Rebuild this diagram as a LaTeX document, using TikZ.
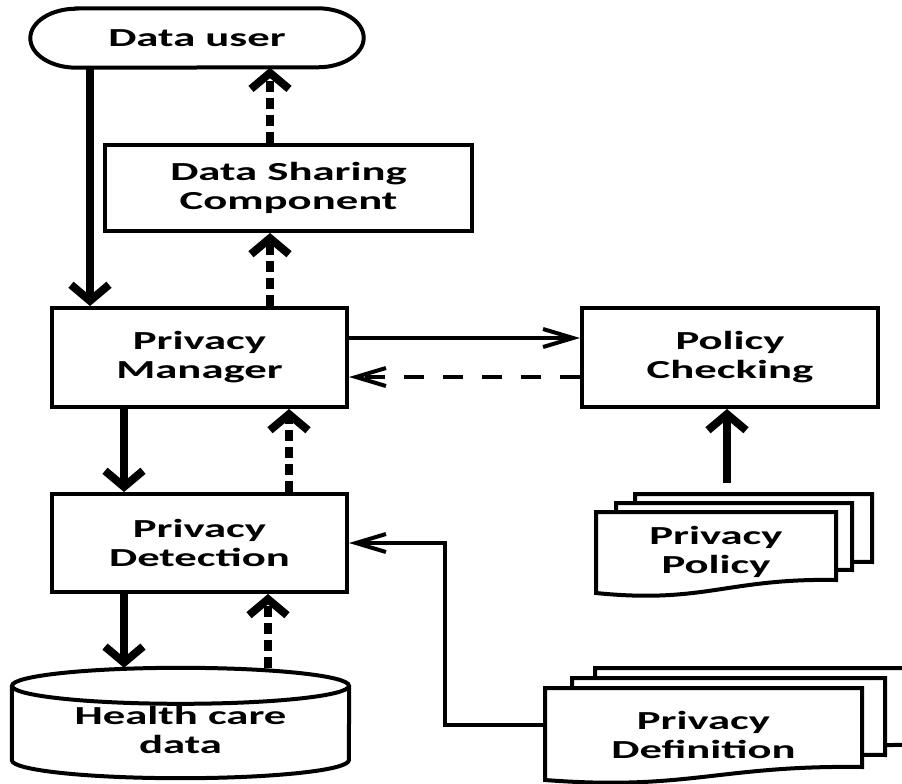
\documentclass[tikz,border=0pt]{standalone}
\usepackage{fontspec}
\newfontfamily\boxfont[FakeStretch=1.72]{Carlito}
\usetikzlibrary{arrows.meta}

\begin{document}
\begin{tikzpicture}[x=1pt,y=-1pt,
  txt/.style={align=center, font=\boxfont\bfseries\fontsize{26}{29}\selectfont},
  box/.style={txt, draw, line width=4pt},
  sheet/.style={draw, fill=white, line width=4pt},
  vflow/.style={line width=8pt, -{Straight Barb[length=16pt,width=38pt]}},
  vback/.style={vflow, dash pattern=on 11pt off 6pt},
  hflow/.style={line width=4pt, -{Straight Barb[length=30pt,width=18pt]}},
  hback/.style={hflow, dash pattern=on 20pt off 19pt}]
\useasboundingbox (0,0) rectangle (902,784);
\clip (0,0) rectangle (902,784);

% left column
\node[txt, minimum width=333pt, minimum height=59pt] (user) at (197,38) {Data user};
\draw[line width=4pt] ([xshift=46pt]user.north west) -- ([xshift=-46pt]user.north east)
  arc[start angle=90, end angle=-90, x radius=46pt, y radius=29.5pt]
  -- ([xshift=46pt]user.south west)
  arc[start angle=270, end angle=90, x radius=46pt, y radius=29.5pt] -- cycle;
\node[box, minimum width=367pt, minimum height=86pt] (share) at (288.5,188) {Data Sharing\\Component};
\node[box, minimum width=295pt, minimum height=99pt] (mgr) at (199.5,357.5) {Privacy\\Manager};
\node[box, minimum width=295pt, minimum height=98pt] (det) at (199.5,543) {Privacy\\Detection};

% storage
\node[minimum width=337pt, minimum height=110pt] (store) at (180.5,723) {};
\draw[line width=4pt] ([yshift=-18pt]store.north west) -- ([yshift=18pt]store.south west)
  arc[start angle=180, end angle=360, x radius=168.5pt, y radius=18pt]
  -- ([yshift=-18pt]store.north east);
\draw[line width=4pt] ([yshift=-18pt]store.north) ellipse[x radius=168.5pt, y radius=18pt];
\node[txt] (storetxt) at ([yshift=-7pt]store.center) {Health care\\data};

% right column
\node[box, minimum width=296pt, minimum height=99pt] (chk) at (730,357.5) {Policy\\Checking};

\draw[sheet] (635,494) -- (872,494) -- (872,562) .. controls (765,560) and (742,586) .. (635,575) -- cycle;
\draw[sheet] (616,503) -- (852,503) -- (852,570) .. controls (746,568) and (722,594) .. (616,583) -- cycle;
\draw[sheet] (596,512) -- (836,512) -- (836,580) .. controls (728,578) and (704,604) .. (596,593) -- cycle;
\node[txt, minimum height=138pt] (pol) at (716,552) {Privacy\\Policy};

\draw[sheet] (595,668) -- (925,668) -- (925,745) .. controls (776,743) and (744,769) .. (595,758) -- cycle;
\draw[sheet] (572,678) -- (885,678) -- (885,755) .. controls (744,753) and (713,779) .. (572,768) -- cycle;
\draw[sheet] (545,688) -- (862,688) -- (862,767) .. controls (719,765) and (688,791) .. (545,780) -- cycle;
\node[txt, minimum width=317pt] (def) at (703.5,735) {Privacy\\Definition};

% connectors
\draw[vflow] (user.south -| 90,0) -- (mgr.north -| 90,0);
\draw[vback] (share.north -| 270,0) -- (user.south -| 270,0);
\draw[vback] (mgr.north -| 270,0) -- (share.south -| 270,0);
\draw[hflow] (mgr.east |- 0,338) -- (chk.west |- 0,338);
\draw[hback] (chk.west |- 0,377) -- (mgr.east |- 0,377);
\draw[vflow] (mgr.south -| 124,0) -- (det.north -| 124,0);
\draw[vback] (det.north -| 289,0) -- (mgr.south -| 289,0);
\draw[vflow] (pol.north -| 727,0) -- (chk.south -| 727,0);
\draw[hflow] ([yshift=10pt]def.west) -- ++(-100,0) |- (det.east);
\draw[vflow] (det.south -| 124,0) -- (store.north -| 124,0);
\draw[vback] (store.north -| 268,0) -- (det.south -| 268,0);
\end{tikzpicture}
\end{document}
